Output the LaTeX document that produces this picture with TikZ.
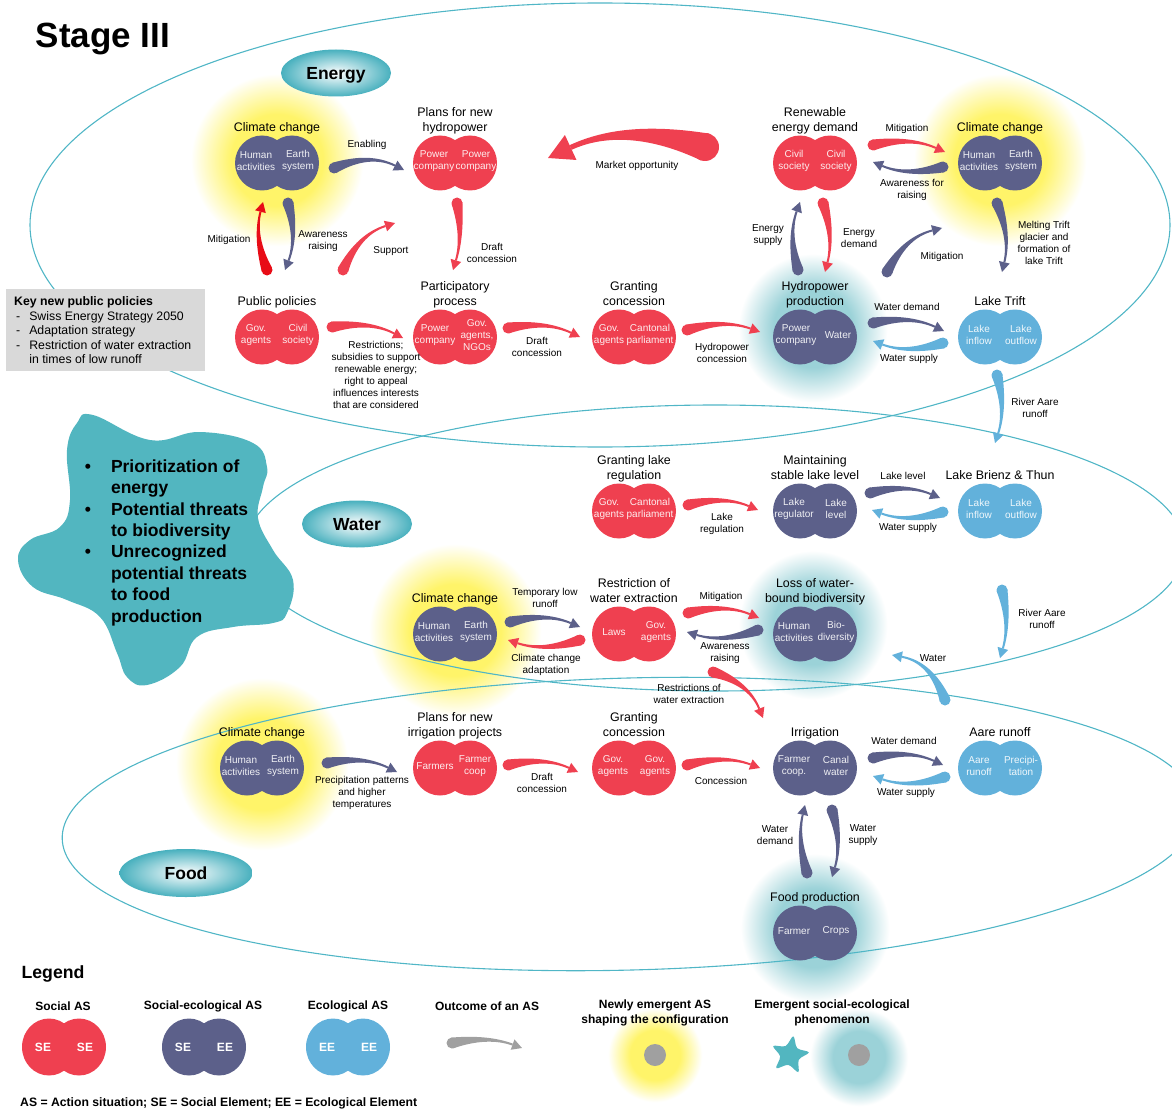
\documentclass[tikz,border=0pt]{standalone}
\usepackage{fontspec}
\setmainfont{Liberation Sans}
\usetikzlibrary{calc,shapes.geometric}
\definecolor{asred}{RGB}{239,64,80}
\definecolor{asdark}{RGB}{92,96,138}
\definecolor{asblue}{RGB}{98,177,219}
\definecolor{brightred}{RGB}{232,12,22}
\definecolor{ringteal}{RGB}{80,182,198}
\definecolor{startea}{RGB}{82,182,192}
\definecolor{boxgray}{RGB}{217,217,217}
\definecolor{glowyellow}{RGB}{255,244,105}
\definecolor{glowteal}{RGB}{155,210,216}
\definecolor{labteal}{RGB}{72,176,190}
\definecolor{legray}{RGB}{160,160,160}
\pgfdeclareradialshading{glowy}{\pgfpointorigin}{color(0bp)=(glowyellow); color(13bp)=(glowyellow); color(24.5bp)=(white); color(50bp)=(white)}
\pgfdeclareradialshading{glowt}{\pgfpointorigin}{color(0bp)=(glowteal); color(13bp)=(glowteal); color(24.5bp)=(white); color(50bp)=(white)}
% action situation: name, x, y, colour, title, left, right, left x offset, right x offset
\newcommand\ASx[9]{%
  \fill[#4] (#2-15,#3) ellipse [x radius=27pt, y radius=27.5pt];
  \fill[#4] (#2+15,#3) ellipse [x radius=27pt, y radius=27.5pt];
  \node[asnode] (#1) at (#2,#3) {};
  \node[astitle] (#1-t) at (#2,#3-28) {#5};
  \node[asin] (#1-l) at (#2+#8,#3-2) {#6};
  \node[asin] (#1-r) at (#2+#9,#3-2) {#7};
}
\newcommand\AS[7]{\ASx{#1}{#2}{#3}{#4}{#5}{#6}{#7}{-21}{21}}
\newcommand\LAS[6]{%
  \fill[#4] (#2-15,#3) ellipse [x radius=27pt, y radius=28.5pt];
  \fill[#4] (#2+15,#3) ellipse [x radius=27pt, y radius=28.5pt];
  \node[asnode] (#1) at (#2,#3) {};
  \node[legin] (#1-l) at (#2-21,#3) {#5};
  \node[legin] (#1-r) at (#2+21,#3) {#6};
}
% tapered arrow: [start half width]{colour}{start}{end}{bend}{head scale}
\newcommand\tarr[6][5.5pt]{%
  \path (#3) coordinate (tA) (#4) coordinate (tB);
  \path ($(tA)!.5!(tB)!#5!90:(tB)$) coordinate (tM);
  \path ($(tB)!#6*10pt!(tM)$) coordinate (tE);
  \path ($(tA)!#1!90:(tB)$) coordinate (tN);
  \path ($(tA)!#1!90:(tM)$) coordinate (tSa);
  \path ($(tA)!#1!-90:(tM)$) coordinate (tSb);
  \path ($(tA)!2/3!(tM)$) coordinate (tC);
  \path ($(tE)!2/3!(tM)$) coordinate (tD);
  \path ($(tC)+.45*(tN)-.45*(tA)$) coordinate (tCa);
  \path ($(tC)-.45*(tN)+.45*(tA)$) coordinate (tCb);
  \path ($(tD)+.2*(tN)-.2*(tA)$) coordinate (tDa);
  \path ($(tD)-.2*(tN)+.2*(tA)$) coordinate (tDb);
  \path ($(tE)!.18*#1!90:(tB)$) coordinate (tEa);
  \path ($(tE)!.18*#1!-90:(tB)$) coordinate (tEb);
  \path ($(tE)!#6*5.5pt!90:(tB)$) coordinate (tHa);
  \path ($(tE)!#6*5.5pt!-90:(tB)$) coordinate (tHb);
  \fill[#2] (tSa) .. controls (tCa) and (tDa) .. (tEa) -- (tEb) .. controls (tDb) and (tCb) .. (tSb) -- cycle;
  \fill[#2] (tA) circle[radius=#1];
  \fill[#2] (tB) -- (tHa) -- (tHb) -- cycle;
}
\begin{document}
\begin{tikzpicture}[x=1pt,y=-1pt,
  asnode/.style={rectangle,minimum width=84pt,minimum height=55pt,inner sep=0pt},
  astitle/.style={anchor=south,align=center,inner sep=0pt,text depth=3pt,font=\fontsize{12.4}{15}\selectfont},
  asin/.style={align=center,inner sep=0pt,text=white,text opacity=.9,font=\fontsize{10}{12}\selectfont},
  lbl/.style={align=center,inner sep=0pt,font=\fontsize{10}{12}\selectfont},
  ringline/.style={draw=ringteal,line width=1.1pt},
  domlabel/.style={ellipse,inner color=white,outer color=labteal,inner sep=0pt,text height=12.5pt,text depth=0pt,font=\bfseries\fontsize{17.5}{20}\selectfont},
  legh/.style={align=center,inner sep=0pt,font=\bfseries\fontsize{12}{15}\selectfont},
  legin/.style={inner sep=0pt,text=white,font=\bfseries\fontsize{12}{14}\selectfont}
]
\useasboundingbox (0,0) rectangle (1172,1110);
% glows
\shade[shading=glowy] (277,160) circle (88pt);
\shade[shading=glowy] (1000,160) circle (88pt);
\shade[shading=glowy] (455,630) circle (88pt);
\shade[shading=glowy] (262,764) circle (88pt);
\shade[shading=glowt] (813,328) circle (76pt);
\shade[shading=glowt] (813,625) circle (76pt);
\shade[shading=glowt] (815,928) circle (76pt);
\shade[shading=glowy] (655,1055) circle (48pt);
\shade[shading=glowt] (859,1057) circle (50pt);
% domain rings
\draw[ringline] (600,225) ellipse [x radius=570pt, y radius=222pt];
\draw[ringline] (715,548) ellipse [x radius=470pt, y radius=143pt];
\draw[ringline, rotate around={1.5:(630,824)}] (630,824) ellipse [x radius=568pt, y radius=146pt];
% emergent phenomenon blob
\fill[startea] plot[smooth cycle, tension=.7] coordinates {(93,415) (150,440) (200,432) (253,443) (267,467) (263,487) (258,518) (273,550) (293,580) (287,613) (273,623) (233,627) (197,637) (180,667) (147,685) (127,677) (117,653) (100,617) (67,600) (33,587) (18,560) (30,540) (60,527) (70,500) (67,450) (77,423)};
\node[anchor=north west, inner sep=0pt, font=\bfseries\fontsize{17.5}{21.43}\selectfont] (blobtxt) at (84.7,457) {\begin{tabular}{@{}l@{\hspace{20pt}}l@{}}
\textbullet & Prioritization of\\ & energy\\ \textbullet & Potential threats\\ & to biodiversity\\ \textbullet & Unrecognized\\ & potential threats\\ & to food\\ & production\end{tabular}};
% key policies box
\node[fill=boxgray, minimum width=199pt, minimum height=82pt, inner sep=0pt, anchor=north west] (keybox) at (6,289) {};
\node[anchor=north west, inner sep=0pt, font=\fontsize{12.3}{14.6}\selectfont] (keytxt) at (14,295) {\begin{tabular}{@{\hspace{2pt}}l@{\hspace{9pt}}l@{}}
\multicolumn{2}{@{}l}{\bfseries Key new public policies}\\ - & Swiss Energy Strategy 2050\\ - & Adaptation strategy\\ - & Restriction of water extraction\\ & in times of low runoff\end{tabular}};
% domain labels
\node[domlabel, minimum width=110pt, minimum height=47pt] (energy) at (336,73) {Energy};
\node[domlabel, minimum width=110pt, minimum height=47pt] (water) at (357,524) {Water};
\node[domlabel, minimum width=133pt, minimum height=48pt] (food) at (186,873) {Food};
% title
\node[anchor=base, inner sep=0pt, font=\bfseries\fontsize{35}{40}\selectfont] (title) at (103,48) {Stage III};
% action situations
\AS{cca}{277}{163}{asdark}{Climate change}{Human\\activities}{Earth\\system}
\AS{ph}{455}{163}{asred}{Plans for new\\hydropower}{Power\\company}{Power\\company}
\AS{rdem}{815}{163}{asred}{Renewable\\energy demand}{Civil\\society}{Civil\\society}
\AS{ccb}{1000}{163}{asdark}{Climate change}{Human\\activities}{Earth\\system}
\AS{pp}{277}{337}{asred}{Public policies}{Gov.\\agents}{Civil\\society}
\ASx{par}{455}{337}{asred}{Participatory\\process}{Power\\company}{Gov.\\agents,\\NGOs}{-20}{22}
\ASx{gca}{634}{337}{asred}{Granting\\concession}{Gov.\\agents}{Cantonal\\parliament}{-25}{16}
\ASx{hp}{815}{337}{asdark}{Hydropower\\production}{Power\\company}{Water}{-19}{23}
\AS{lt}{1000}{337}{asblue}{Lake Trift}{Lake\\inflow}{Lake\\outflow}
\ASx{glr}{634}{511}{asred}{Granting lake\\regulation}{Gov.\\agents}{Cantonal\\parliament}{-25}{16}
\AS{msl}{815}{511}{asdark}{Maintaining\\stable lake level}{Lake\\regulator}{Lake\\level}
\AS{lbt}{1000}{511}{asblue}{Lake Brienz \& Thun}{Lake\\inflow}{Lake\\outflow}
\AS{ccc}{455}{634}{asdark}{Climate change}{Human\\activities}{Earth\\system}
\ASx{rwe}{634}{634}{asred}{Restriction of\\water extraction}{Laws}{Gov.\\agents}{-20}{22}
\AS{lwb}{815}{634}{asdark}{Loss of water-\\bound biodiversity}{Human\\activities}{Bio-\\diversity}
\AS{ccd}{262}{768}{asdark}{Climate change}{Human\\activities}{Earth\\system}
\ASx{pip}{455}{768}{asred}{Plans for new\\irrigation projects}{Farmers}{Farmer\\coop}{-20}{20}
\AS{gcb}{634}{768}{asred}{Granting\\concession}{Gov.\\agents}{Gov.\\agents}
\AS{irr}{815}{768}{asdark}{Irrigation}{Farmer\\coop.}{Canal\\water}
\AS{ar}{1000}{768}{asblue}{Aare runoff}{Aare\\runoff}{Precipi-\\tation}
\AS{fp}{815}{933}{asdark}{Food production}{Farmer}{Crops}
% arrows: energy
\tarr{asdark}{$(cca)+(57,5)$}{$(ph)+(-51,7)$}{16pt}{1}
\tarr{brightred}{$(pp)+(-10,-67)$}{$(cca)+(-14,39)$}{11pt}{1}
\tarr{asdark}{$(cca)+(11,40)$}{$(pp)+(8,-67)$}{11pt}{1}
\tarr{asred}{$(pp)+(66,-67)$}{$(ph)+(-60,60)$}{16pt}{1}
\tarr{asred}{$(ph)+(2,40)$}{$(par)+(-2,-67)$}{8pt}{1}
\tarr[14pt]{asred}{$(rdem)+(-110,-16)$}{$(ph)+(93,-5)$}{-30pt}{2.5}
\tarr{asred}{$(rdem)+(58,-18)$}{$(ccb)+(-55,-11)$}{12pt}{1}
\tarr{asdark}{$(ccb)+(-57,4)$}{$(rdem)+(58,-1)$}{12pt}{1}
\tarr{asdark}{$(hp)+(-17,-67)$}{$(rdem)+(-15,39)$}{11pt}{1}
\tarr{asred}{$(rdem)+(8,40)$}{$(hp)+(10,-65)$}{10pt}{1}
\tarr{asdark}{$(hp)+(72,-65)$}{$(ccb)+(-58,65)$}{16pt}{1}
\tarr{asdark}{$(ccb)+(-3,40)$}{$(lt)+(2,-65)$}{11pt}{1}
\tarr{asred}{$(pp)+(55,-10)$}{$(par)+(-52,1)$}{12pt}{1}
\tarr{asred}{$(par)+(53,-9)$}{$(gca)+(-54,0)$}{12pt}{1}
\tarr{asred}{$(gca)+(53,-7)$}{$(hp)+(-55,-5)$}{12pt}{1}
\tarr{asdark}{$(hp)+(58,-14)$}{$(lt)+(-56,-6)$}{12pt}{1}
\tarr{asblue}{$(lt)+(-57,6)$}{$(hp)+(58,4)$}{12pt}{1}
\tarr{asblue}{$(lt)+(-3,38)$}{$(lbt)+(-5,-68)$}{10pt}{1}
% arrows: water
\tarr{asred}{$(glr)+(54,-6)$}{$(msl)+(-57,-1)$}{12pt}{1}
\tarr{asdark}{$(msl)+(55,-18)$}{$(lbt)+(-60,-13)$}{12pt}{1}
\tarr{asblue}{$(lbt)+(-57,1)$}{$(msl)+(57,-1)$}{12pt}{1}
\tarr{asdark}{$(ccc)+(55,-12)$}{$(rwe)+(-54,-7)$}{12pt}{1}
\tarr{asred}{$(rwe)+(-54,6)$}{$(ccc)+(53,6)$}{12pt}{1}
\tarr{asred}{$(rwe)+(54,-21)$}{$(lwb)+(-56,-16)$}{12pt}{1}
\tarr{asdark}{$(lwb)+(-57,-4)$}{$(rwe)+(53,-2)$}{12pt}{1}
\tarr{asblue}{$(lbt)+(2,79)$}{$(ar)+(0,-110)$}{9pt}{1}
\tarr{asblue}{$(ar)+(-55,-68)$}{$(lwb)+(77,21)$}{-20pt}{1}
\tarr{asred}{$(rwe)+(79,38)$}{$(irr)+(-52,-50)$}{16pt}{1}
% arrows: food
\tarr{asdark}{$(ccd)+(65,-5)$}{$(pip)+(-58,4)$}{12pt}{1}
\tarr{asred}{$(pip)+(53,-3)$}{$(gcb)+(-56,4)$}{12pt}{1}
\tarr{asred}{$(gcb)+(53,-3)$}{$(irr)+(-55,0)$}{12pt}{1}
\tarr{asdark}{$(irr)+(58,-10)$}{$(ar)+(-57,-3)$}{12pt}{1}
\tarr{asblue}{$(ar)+(-55,9)$}{$(irr)+(58,8)$}{12pt}{1}
\tarr{asdark}{$(fp)+(-8,-60)$}{$(irr)+(-10,37)$}{9pt}{1}
\tarr{asdark}{$(irr)+(17,42)$}{$(fp)+(17,-56)$}{10pt}{1}
% arrow labels
\node[lbl] (lbEnab) at (367,145) {Enabling};
\node[lbl] (lbMit1) at (229,240) {Mitigation};
\node[lbl] (lbAw1) at (323,241) {Awareness\\raising};
\node[lbl] (lbSup) at (391,251) {Support};
\node[lbl] (lbDr1) at (492,253) {Draft\\concession};
\node[lbl] (lbMkt) at (637,166) {Market opportunity};
\node[lbl] (lbMit2) at (907,129) {Mitigation};
\node[lbl] (lbAw2) at (912,190) {Awareness for\\raising};
\node[lbl] (lbEs) at (768,235) {Energy\\supply};
\node[lbl] (lbEd) at (859,238) {Energy\\demand};
\node[lbl] (lbMit3) at (942,257) {Mitigation};
\node[lbl] (lbMelt) at (1044,243) {Melting Trift\\glacier and\\formation of\\lake Trift};
\node[lbl] (lbRes) at (376,375) {Restrictions;\\subsidies to support\\renewable energy;\\right to appeal\\influences interests\\that are considered};
\node[lbl] (lbDr2) at (537,347) {Draft\\concession};
\node[lbl] (lbHc) at (722,353) {Hydropower\\concession};
\node[lbl] (lbWd1) at (907,307) {Water demand};
\node[lbl] (lbWs1) at (909,359) {Water supply};
\node[lbl] (lbRa1) at (1035,408) {River Aare\\runoff};
\node[lbl] (lbLr) at (722,524) {Lake\\regulation};
\node[lbl] (lbLl) at (903,476) {Lake level};
\node[lbl] (lbWs2) at (908,528) {Water supply};
\node[lbl] (lbTl) at (545,598) {Temporary low\\runoff};
\node[lbl] (lbCca) at (546,665) {Climate change\\adaptation};
\node[lbl] (lbMit4) at (721,597) {Mitigation};
\node[lbl] (lbAw3) at (725,653) {Awareness\\raising};
\node[lbl] (lbRwe) at (689,694) {Restrictions of\\water extraction};
\node[lbl] (lbRa2) at (1042,619) {River Aare\\runoff};
\node[lbl] (lbW) at (933,658) {Water};
\node[lbl] (lbPp) at (362,793) {Precipitation patterns\\and higher\\temperatures};
\node[lbl] (lbDr3) at (542,783) {Draft\\concession};
\node[lbl] (lbCon) at (721,781) {Concession};
\node[lbl] (lbWd2) at (904,741) {Water demand};
\node[lbl] (lbWs3) at (906,793) {Water supply};
\node[lbl] (lbWd3) at (775,835) {Water\\demand};
\node[lbl] (lbWs4) at (863,835) {Water\\supply};
% legend
\node[anchor=base, inner sep=0pt, font=\bfseries\fontsize{17.7}{20}\selectfont] (legend) at (53,978) {Legend};
\node[legh] (lh1) at (63,1006) {Social AS};
\node[legh] (lh2) at (203,1006) {Social-ecological AS};
\node[legh] (lh3) at (348,1006) {Ecological AS};
\node[legh] (lh4) at (487,1006) {Outcome of an AS};
\node[legh] (lh5) at (655,1013) {Newly emergent AS\\shaping the configuration};
\node[legh] (lh6) at (832,1013) {Emergent social-ecological\\phenomenon};
\LAS{lsoc}{64}{1047}{asred}{SE}{SE}
\LAS{lse}{204}{1047}{asdark}{SE}{EE}
\LAS{leco}{348}{1047}{asblue}{EE}{EE}
\coordinate (legA) at (452,1043);
\coordinate (legB) at (522,1048);
\tarr{legray}{legA}{legB}{10pt}{1}
\fill[legray] (655,1055) circle (11pt);
\fill[legray] (859,1055) circle (11pt);
\fill[startea] plot[smooth cycle, tension=.55] coordinates {(793.3,1036.3) (797.2,1048.1) (808.8,1052.4) (798.8,1059.7) (798.3,1072.1) (788.3,1064.9) (776.3,1068.2) (780.1,1056.4) (773.2,1046.1) (785.6,1046.0)};
\node[anchor=base west, inner sep=0pt, font=\bfseries\fontsize{12.2}{14}\selectfont] (foot) at (20,1106) {AS = Action situation; SE = Social Element; EE = Ecological Element};
\end{tikzpicture}
\end{document}
